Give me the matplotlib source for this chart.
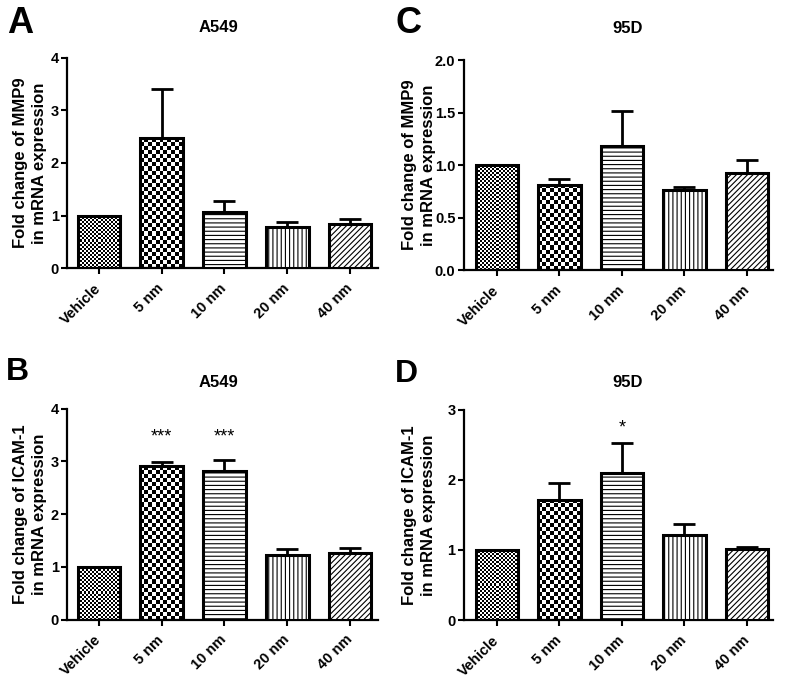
import numpy as np
import matplotlib
matplotlib.use('Agg')
import matplotlib.pyplot as plt

plt.rcParams['font.family'] = ['Liberation Sans', 'DejaVu Sans']
plt.rcParams['hatch.linewidth'] = 0.8

# data (mean, and SEM = top of error bar - mean)
labels = ['Vehicle', '5 nm', '10 nm', '20 nm', '40 nm']

a_mean = [1.0, 2.47, 1.06, 0.79, 0.84]
a_sem = [0.0, 0.93, 0.22, 0.09, 0.09]

c_mean = [1.0, 0.81, 1.18, 0.76, 0.92]
c_sem = [0.0, 0.06, 0.33, 0.03, 0.13]

b_mean = [1.0, 2.91, 2.81, 1.22, 1.27]
b_sem = [0.0, 0.08, 0.22, 0.12, 0.09]

d_mean = [1.0, 1.72, 2.10, 1.22, 1.01]
d_sem = [0.0, 0.24, 0.43, 0.15, 0.03]

b_stars = {1: '***', 2: '***'}
b_star_y = 3.47
d_stars = {2: '*'}
d_star_y = 2.74

# fill style per group: ('checker', cell px) or hatch string
fills = [('checker', 2), ('checker', 4), '----', '||||', '//////']

fig = plt.figure(figsize=(7.86, 6.82), dpi=100)


def checker(ax, bar, cell_px):
    x0, y0 = bar.get_x(), bar.get_y()
    x1, y1 = x0 + bar.get_width(), y0 + bar.get_height()
    p0 = ax.transData.transform((x0, y0))
    p1 = ax.transData.transform((x1, y1))
    nx = max(1, int(round((p1[0] - p0[0]) / cell_px)))
    ny = max(1, int(round((p1[1] - p0[1]) / cell_px)))
    arr = np.add.outer(np.arange(ny), np.arange(nx)) % 2
    im = ax.imshow(arr, extent=(x0, x1, y0, y1), cmap='gray', origin='lower',
                   interpolation='nearest', aspect='auto', zorder=2)
    im.set_clip_path(bar)


def panel(rect, xlim, ymax, yticks, ytick_fmt, means, sems, ylabel, label_x, title, title_pos,
          stars=None, star_y=None):
    ax = fig.add_axes(rect)
    ax.set_xlim(*xlim)
    ax.set_ylim(0, ymax)
    x = np.arange(len(labels))
    bars = ax.bar(x, means, width=0.68, facecolor='white', edgecolor='black',
                  linewidth=2.2, zorder=3)
    for bar, f in zip(bars, fills):
        if isinstance(f, tuple):
            bar.set_facecolor('none')
            checker(ax, bar, f[1])
        else:
            bar.set_hatch(f)
    ax.errorbar(x, means, yerr=[np.zeros(len(sems)), sems], fmt='none', ecolor='black',
                elinewidth=2.0, capsize=8, capthick=2.0, zorder=4)
    ax.set_xlim(*xlim)
    ax.set_ylim(0, ymax)

    for s in ['top', 'right']:
        ax.spines[s].set_visible(False)
    for s in ['left', 'bottom']:
        ax.spines[s].set_linewidth(1.6)
    ax.set_yticks(yticks)
    ax.set_yticklabels([ytick_fmt.format(v) for v in yticks], fontsize=10.5, fontweight='bold')
    ax.set_xticks(x)
    ax.set_xticklabels(labels, fontsize=10.5, fontweight='bold', rotation=45,
                       ha='right', va='center', rotation_mode='anchor')
    ax.tick_params(axis='both', length=4, width=1.5, direction='out')
    ax.tick_params(axis='x', pad=9)
    ax.tick_params(axis='y', pad=2)

    ax.set_ylabel(ylabel, fontsize=12, fontweight='bold', linespacing=1.35)
    ax.yaxis.set_label_coords(label_x, 0.5)
    ax.text(title_pos[0], title_pos[1], title, transform=ax.transAxes, ha='center',
            va='center', fontsize=12, fontweight='bold')

    if stars:
        for i, s in stars.items():
            ax.text(i, star_y, s, ha='center', va='center', fontsize=13)
    return ax


panel([0.0852, 0.607, 0.396, 0.308], (-0.51, 4.45), 4, [0, 1, 2, 3, 4], '{:.0f}',
      a_mean, a_sem, 'Fold change of MMP9\nin mRNA expression', -0.065, 'A549', (0.486, 1.143))
panel([0.590, 0.604, 0.393, 0.308], (-0.53, 4.41), 2.0, [0.0, 0.5, 1.0, 1.5, 2.0], '{:.1f}',
      c_mean, c_sem, 'Fold change of MMP9\nin mRNA expression', -0.09, '95D', (0.53, 1.152))
panel([0.0852, 0.0916, 0.396, 0.309], (-0.51, 4.45), 4, [0, 1, 2, 3, 4], '{:.0f}',
      b_mean, b_sem, 'Fold change of ICAM-1\nin mRNA expression', -0.065, 'A549', (0.486, 1.124),
      stars=b_stars, star_y=b_star_y)
panel([0.590, 0.0909, 0.393, 0.308], (-0.53, 4.41), 3, [0, 1, 2, 3], '{:.0f}',
      d_mean, d_sem, 'Fold change of ICAM-1\nin mRNA expression', -0.09, '95D', (0.53, 1.133),
      stars=d_stars, star_y=d_star_y)

fig.text(0.009, 0.9516, 'A', fontsize=26, fontweight='bold', va='baseline')
fig.text(0.503, 0.9516, 'C', fontsize=26, fontweight='bold', va='baseline')
fig.text(0.007, 0.443, 'B', fontsize=23, fontweight='bold', va='baseline')
fig.text(0.503, 0.440, 'D', fontsize=23, fontweight='bold', va='baseline')

fig.savefig('out.png', dpi=100)
